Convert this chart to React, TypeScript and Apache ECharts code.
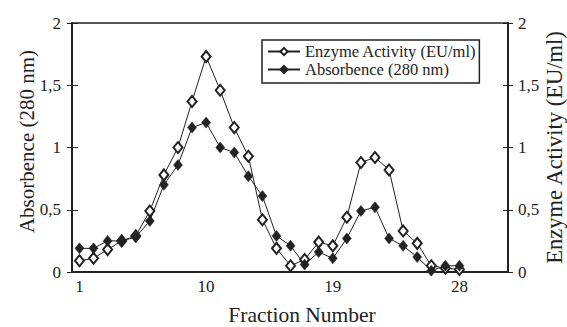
import React, { useEffect, useRef } from "react";
import * as echarts from "echarts";

const fractions = [1, 2, 3, 4, 5, 6, 7, 8, 9, 10, 11, 12, 13, 14, 15, 16, 17, 18, 19, 20, 21, 22, 23, 24, 25, 26, 27, 28];
const enzymeActivity = [0.09, 0.11, 0.18, 0.25, 0.29, 0.49, 0.78, 1.0, 1.37, 1.73, 1.46, 1.16, 0.93, 0.42, 0.19, 0.05, 0.1, 0.24, 0.21, 0.44, 0.88, 0.92, 0.82, 0.33, 0.23, 0.05, 0.03, 0.02];
const absorbance = [0.19, 0.19, 0.25, 0.25, 0.28, 0.41, 0.7, 0.86, 1.16, 1.2, 1.0, 0.96, 0.77, 0.61, 0.29, 0.21, 0.06, 0.16, 0.11, 0.27, 0.49, 0.52, 0.27, 0.21, 0.12, 0.01, 0.05, 0.05];
const xTickValues = [1, 10, 19, 28];
const seriesNames = ["Enzyme Activity (EU/ml)", "Absorbence (280 nm)"];

const FONT = "'Liberation Serif', 'Times New Roman', serif";
const INK = "#222";

const fmt = (v: number) => String(v).replace(".", ",");

export default function App() {
  const ref = useRef<HTMLDivElement>(null);
  useEffect(() => {
    document.body.style.margin = "0";
    const chart = echarts.init(ref.current!, null, { renderer: "svg" });
    const yBase = {
      type: "value" as const,
      min: 0,
      max: 2,
      interval: 0.5,
      splitLine: { show: false },
    };
    chart.setOption({
      animation: false,
      backgroundColor: "#fff",
      textStyle: { fontFamily: FONT },
      grid: {
        left: 72,
        right: 59,
        top: 23,
        bottom: 55,
        outerBoundsMode: "none",
        containLabel: false,
        show: true,
        borderColor: INK,
        borderWidth: 1.5,
      },
      legend: {
        orient: "vertical",
        left: 262,
        top: 40,
        backgroundColor: "#fff",
        borderColor: INK,
        borderWidth: 1.5,
        borderRadius: 0,
        padding: [3, 3, 5, 5],
        itemGap: 1,
        itemWidth: 32,
        itemHeight: 9,
        textStyle: { fontSize: 16.5, lineHeight: 16, fontFamily: FONT, color: INK },
        data: seriesNames,
      },
      xAxis: {
        type: "value",
        min: 0.47,
        max: 31.45,
        name: "Fraction Number",
        nameLocation: "middle",
        nameGap: 32,
        nameMoveOverlap: false,
        nameTextStyle: { fontSize: 21.5, fontFamily: FONT, color: INK, verticalAlign: "top", padding: [0, 0, 0, 24] },
        axisLine: { lineStyle: { color: INK, width: 2 } },
        axisTick: { show: false },
        splitLine: { show: false },
        axisLabel: {
          customValues: xTickValues,
          fontSize: 17,
          fontFamily: FONT,
          color: INK,
          margin: 6,
        },
      },
      yAxis: [
        {
          ...yBase,
          position: "left",
          name: "Absorbence (280 nm)",
          nameLocation: "middle",
          nameRotate: 90,
          nameGap: 35,
          nameMoveOverlap: false,
          nameTextStyle: { fontSize: 21, fontFamily: FONT, color: INK, verticalAlign: "bottom", padding: [0, 0, 0, 12] },
          axisLine: { show: true, lineStyle: { color: INK, width: 2 } },
          axisTick: { show: true, length: 5, lineStyle: { color: INK, width: 1 } },
          axisLabel: { fontSize: 17, fontFamily: FONT, color: INK, margin: 11, formatter: fmt },
        },
        {
          ...yBase,
          position: "right",
          name: "Enzyme Activity (EU/ml)",
          nameLocation: "middle",
          nameRotate: 90,
          nameGap: 35,
          nameMoveOverlap: false,
          nameTextStyle: { fontSize: 22.5, fontFamily: FONT, color: INK, verticalAlign: "top" },
          axisLine: { show: true, lineStyle: { color: INK, width: 2 } },
          axisTick: { show: true, length: 5, lineStyle: { color: INK, width: 1 } },
          axisLabel: { fontSize: 17, fontFamily: FONT, color: INK, margin: 10, formatter: fmt },
        },
        {
          ...yBase,
          position: "left",
          axisLine: { show: false },
          axisTick: { show: true, inside: true, length: 6, lineStyle: { color: INK, width: 1 } },
          axisLabel: { show: false },
        },
        {
          ...yBase,
          position: "right",
          axisLine: { show: false },
          axisTick: { show: true, inside: true, length: 5, lineStyle: { color: INK, width: 1 } },
          axisLabel: { show: false },
        },
      ],
      series: [
        {
          name: seriesNames[0],
          type: "line",
          yAxisIndex: 1,
          data: fractions.map((f, i) => [f, enzymeActivity[i]]),
          symbol: "emptyDiamond",
          symbolSize: [9, 11],
          lineStyle: { color: INK, width: 1 },
          itemStyle: { color: INK, borderColor: INK, borderWidth: 1.2 },
        },
        {
          name: seriesNames[1],
          type: "line",
          yAxisIndex: 0,
          data: fractions.map((f, i) => [f, absorbance[i]]),
          symbol: "diamond",
          symbolSize: [9, 11],
          lineStyle: { color: INK, width: 1 },
          itemStyle: { color: INK, borderColor: INK, borderWidth: 0.5 },
        },
      ],
    });
    return () => chart.dispose();
  }, []);
  return (
    <div
      ref={ref}
      style={{ position: "absolute", left: 0, top: 0, width: 567, height: 327 }}
    />
  );
}
